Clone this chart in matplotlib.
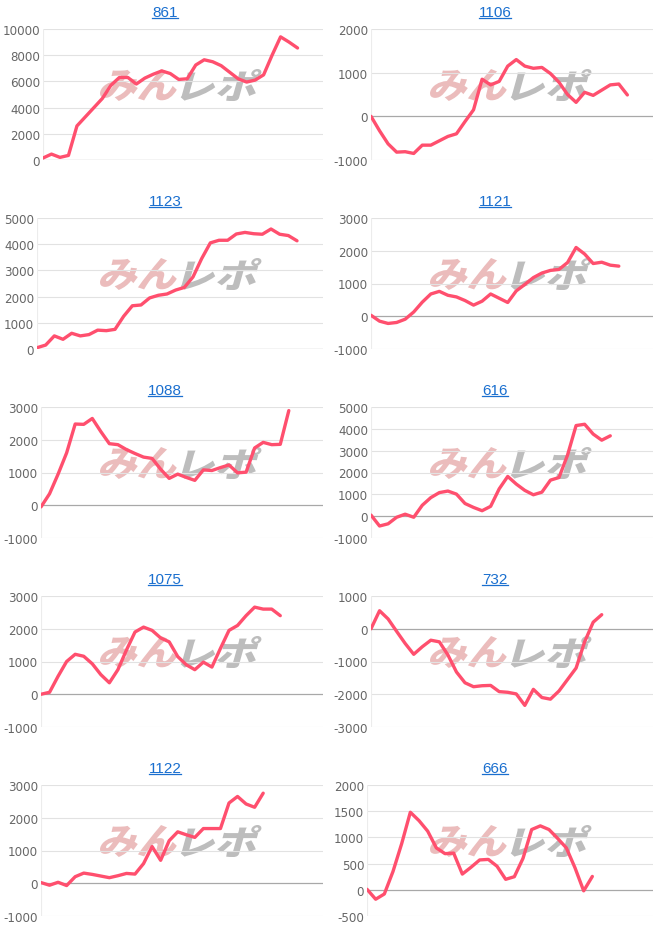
import matplotlib
matplotlib.use("Agg")
import matplotlib.pyplot as plt
from matplotlib.textpath import TextPath
from matplotlib.patches import PathPatch
from matplotlib.font_manager import FontProperties
from matplotlib.transforms import Affine2D, IdentityTransform
from matplotlib.lines import Line2D

# ---------------- data ----------------
titles = ["861", "1106", "1123", "1121", "1088", "616", "1075", "732", "1122", "666"]

s861 = [150, 450, 200, 350, 2600, 3300, 4000, 4700, 5700, 6300, 6300, 5800, 6250, 6550, 6800,
        6600, 6150, 6200, 7250, 7650, 7500, 7200, 6700, 6200, 5950, 6100, 6500, 8000, 9400, 9000, 8550]
s1106 = [0, -330, -630, -820, -810, -850, -660, -660, -560, -460, -400, -120, 150, 850, 720,
         800, 1150, 1300, 1150, 1100, 1120, 980, 780, 500, 320, 550, 480, 600, 720, 740, 490]
s1123 = [50, 150, 500, 370, 600, 500, 550, 720, 700, 750, 1250, 1650, 1680, 1950, 2050,
         2100, 2250, 2350, 2750, 3450, 4050, 4150, 4150, 4390, 4450, 4400, 4380, 4580, 4380, 4330, 4130]
s1121 = [30, -150, -220, -190, -90, 130, 430, 680, 760, 640, 590, 480, 340, 460, 680,
         550, 420, 775, 970, 1180, 1320, 1400, 1430, 1640, 2100, 1900, 1610, 1650, 1560, 1530]
s1088 = [-50, 350, 950, 1600, 2480, 2470, 2650, 2250, 1880, 1850, 1700, 1580, 1470, 1430, 1100,
         820, 950, 850, 760, 1080, 1060, 1150, 1230, 990, 1010, 1750, 1920, 1850, 1860, 2890]
s616 = [50, -450, -350, -50, 90, -50, 500, 850, 1080, 1150, 1010, 580, 400, 250, 450,
        1250, 1820, 1470, 1180, 980, 1100, 1650, 1770, 2800, 4150, 4210, 3760, 3480, 3680]
s1075 = [0, 60, 550, 1000, 1220, 1160, 930, 600, 350, 750, 1350, 1900, 2050, 1950, 1720,
         1600, 1150, 900, 750, 980, 830, 1400, 1950, 2100, 2400, 2660, 2600, 2600, 2400]
s732 = [0, 550, 300, -80, -450, -780, -550, -350, -400, -800, -1320, -1650, -1770, -1740, -1730,
        -1920, -1940, -1990, -2340, -1850, -2100, -2150, -1900, -1550, -1200, -400, 200, 430]
s1122 = [20, -60, 30, -70, 200, 310, 270, 220, 170, 230, 300, 280, 600, 1120, 700,
         1300, 1570, 1480, 1400, 1670, 1670, 1670, 2450, 2650, 2420, 2320, 2750]
s666 = [10, -180, -80, 350, 880, 1480, 1320, 1120, 800, 690, 700, 300, 430, 570, 580,
        450, 200, 250, 600, 1150, 1220, 1150, 980, 800, 420, -20, 255]

series = [s861, s1106, s1123, s1121, s1088, s616, s1075, s732, s1122, s666]

yticks = [
    [0, 2000, 4000, 6000, 8000, 10000],
    [-1000, 0, 1000, 2000],
    [0, 1000, 2000, 3000, 4000, 5000],
    [-1000, 0, 1000, 2000, 3000],
    [-1000, 0, 1000, 2000, 3000],
    [-1000, 0, 1000, 2000, 3000, 4000, 5000],
    [-1000, 0, 1000, 2000, 3000],
    [-3000, -2000, -1000, 0, 1000],
    [-1000, 0, 1000, 2000, 3000],
    [-500, 0, 500, 1000, 1500, 2000],
]

# ---------------- layout ----------------
W, H = 660, 945
fig = plt.figure(figsize=(W / 100, H / 100), dpi=100)
fig.patch.set_facecolor("white")

row_top = [30, 219, 408, 597, 786]
row_bot = [161, 350, 539, 728, 917]
lefts = [43, 371, 37, 371, 41, 371, 41, 371, 41, 367]
rights = [323, 653]

line_color = "#ff4f6e"
title_color = "#1a6fcf"
tick_color = "#666666"

fp_wm = FontProperties(family="Noto Sans CJK JP", weight="heavy")


def wm_patch(text, x0, x1, ytop, ybot, color):
    tp = TextPath((0, 0), text, size=40, prop=fp_wm)
    ext = tp.get_extents()
    sx = (x1 - x0) / ext.width
    sy = (ybot - ytop) / ext.height
    sh = 0.27
    tr = (Affine2D().translate(-ext.x0, -ext.y0).scale(sx, sy)
          .skew(sh, 0).translate(x0 - sh * (ybot - ytop) * 0.5, H - ybot))
    path = tr.transform_path(tp)
    return PathPatch(path, facecolor=color, edgecolor="none",
                     transform=IdentityTransform(), zorder=-5)


fig.canvas.draw()
for i, (t, s, yt) in enumerate(zip(titles, series, yticks)):
    r, c = divmod(i, 2)
    L = lefts[i]
    R = rights[c]
    top, bot = row_top[r], row_bot[r]
    ax = fig.add_axes([L / W, 1 - bot / H, (R - L) / W, (bot - top) / H])
    ax.set_facecolor("none")
    ax.plot(range(len(s)), s, color=line_color, lw=2.4, solid_joinstyle="round",
            solid_capstyle="round", zorder=5)
    ax.set_xlim(0, 33)
    ax.set_ylim(yt[0], yt[-1])
    ax.set_yticks(yt)
    ax.set_yticklabels([str(v) for v in yt])
    ax.set_xticks([])
    ax.tick_params(axis="y", length=0, pad=2, labelsize=8.6, labelcolor=tick_color)
    for lab in ax.get_yticklabels():
        lab.set_family("DejaVu Sans")
    for sp in ax.spines.values():
        sp.set_visible(False)
    for v in yt:
        if v == 0:
            ax.axhline(v, color="#a8a8a8", lw=0.9, zorder=2)
        else:
            ax.axhline(v, color="#e2e2e2", lw=0.8, zorder=1)
    ax.axvline(0, color="#ececec", lw=0.8, zorder=1)

    # title with underline
    cx = 165 + 330 * c
    base_y = top - 13
    txt = fig.text(cx / W, 1 - base_y / H, t, ha="center", va="baseline",
                   color=title_color, fontsize=11, family="Liberation Sans")
    bb = txt.get_window_extent(renderer=fig.canvas.get_renderer())
    uy = 1 - (base_y + 1.6) / H
    fig.add_artist(Line2D([bb.x0 / W, bb.x1 / W], [uy, uy], color=title_color, lw=0.9))

    # watermark
    ox = 330 * c
    rt = row_top[r] - 30
    fig.add_artist(wm_patch("みん", ox + 102, ox + 178, rt + 70, rt + 102, "#ebbcbc"))
    fig.add_artist(wm_patch("レポ", ox + 184, ox + 258, rt + 70, rt + 102, "#bdbdbd"))

fig.savefig("out.png", dpi=100, facecolor="white")
